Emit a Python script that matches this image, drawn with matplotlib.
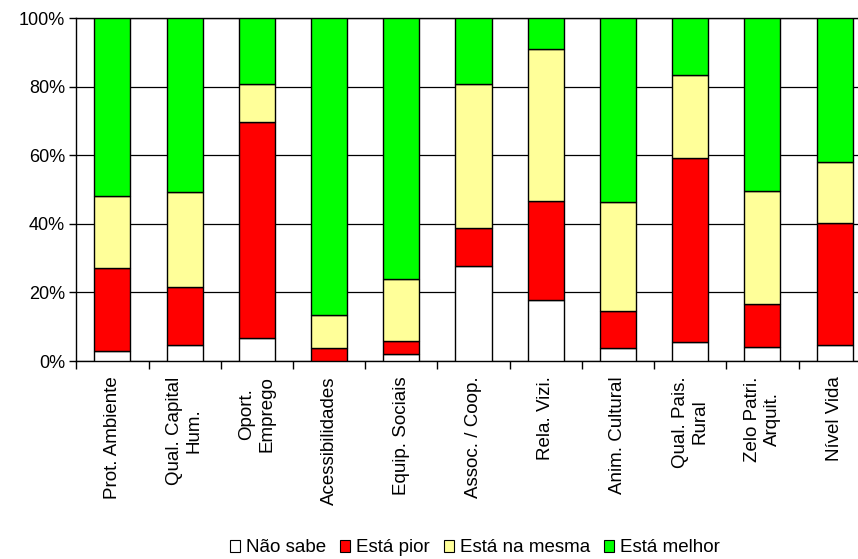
import numpy as np
import matplotlib.pyplot as plt
from matplotlib.patches import Patch

# Percentages per indicator (stacked to 100%)
categories = ['Prot. Ambiente', 'Qual. Capital\nHum.', 'Oport.\nEmprego', 'Acessibilidades',
              'Equip. Sociais', 'Assoc. / Coop.', 'Rela. Vizi.', 'Anim. Cultural',
              'Qual. Pais.\nRural', 'Zelo Patri.\nArquit.', 'Nível Vida']
nao_sabe = [3.0, 4.7, 6.8, 0.0, 2.0, 27.8, 17.8, 3.9, 5.6, 4.2, 4.7]
esta_pior = [24.0, 17.0, 63.0, 3.9, 3.9, 11.0, 29.0, 10.8, 53.7, 12.3, 35.5]
esta_mesma = [21.0, 27.5, 11.0, 9.6, 18.1, 42.0, 44.1, 31.6, 24.2, 33.2, 17.9]
esta_melhor = [52.0, 50.8, 19.2, 86.5, 76.0, 19.2, 9.1, 53.7, 16.5, 50.3, 41.9]

series_names = ['Não sabe', 'Está pior', 'Está na mesma', 'Está melhor']
series_colors = ['#FFFFFF', '#FF0000', '#FFFF99', '#00FF00']

plt.rcParams['font.family'] = ['Liberation Sans', 'DejaVu Sans']

fig = plt.figure(figsize=(8.58, 5.59), dpi=100)
ax = fig.add_axes([0.0889, 0.3542, 0.926, 0.6131])

x = np.arange(len(categories))
bottom = np.zeros(len(categories))
for vals, col in zip([nao_sabe, esta_pior, esta_mesma, esta_melhor], series_colors):
    ax.bar(x, vals, width=0.5, bottom=bottom, color=col, edgecolor='black',
           linewidth=1.0, zorder=3)
    bottom += np.array(vals)

ax.set_xlim(-0.5, len(categories) - 0.5)
ax.set_ylim(0, 100)
ax.set_yticks([0, 20, 40, 60, 80, 100])
ax.set_yticklabels([f'{v}%' for v in range(0, 101, 20)], fontsize=13)
ax.yaxis.grid(True, color='black', linewidth=0.9, zorder=0)
ax.tick_params(axis='y', direction='out', length=5, width=1, pad=3)

# category labels in the middle, tick marks on the boundaries
ax.set_xticks(x)
ax.set_xticklabels(categories, rotation=90, fontsize=13.5, ha='center', va='top',
                   multialignment='center')
ax.tick_params(axis='x', which='major', length=0, pad=11)
ax.set_xticks(np.arange(-0.5, len(categories), 1), minor=True)
ax.tick_params(axis='x', which='minor', direction='out', length=6, width=1)

for side in ['left', 'bottom', 'top']:
    ax.spines[side].set_color('black')
    ax.spines[side].set_linewidth(1.0)
ax.spines['right'].set_visible(False)

handles = [Patch(facecolor=c, edgecolor='black', linewidth=0.8) for c in series_colors]
fig.legend(handles, series_names, loc='center', bbox_to_anchor=(475 / 858, 1 - 548 / 559),
           ncol=4, frameon=False, handlelength=0.55, handleheight=0.55, handletextpad=0.3,
           columnspacing=0.75, fontsize=13.5)

fig.savefig('out.png', dpi=100)
